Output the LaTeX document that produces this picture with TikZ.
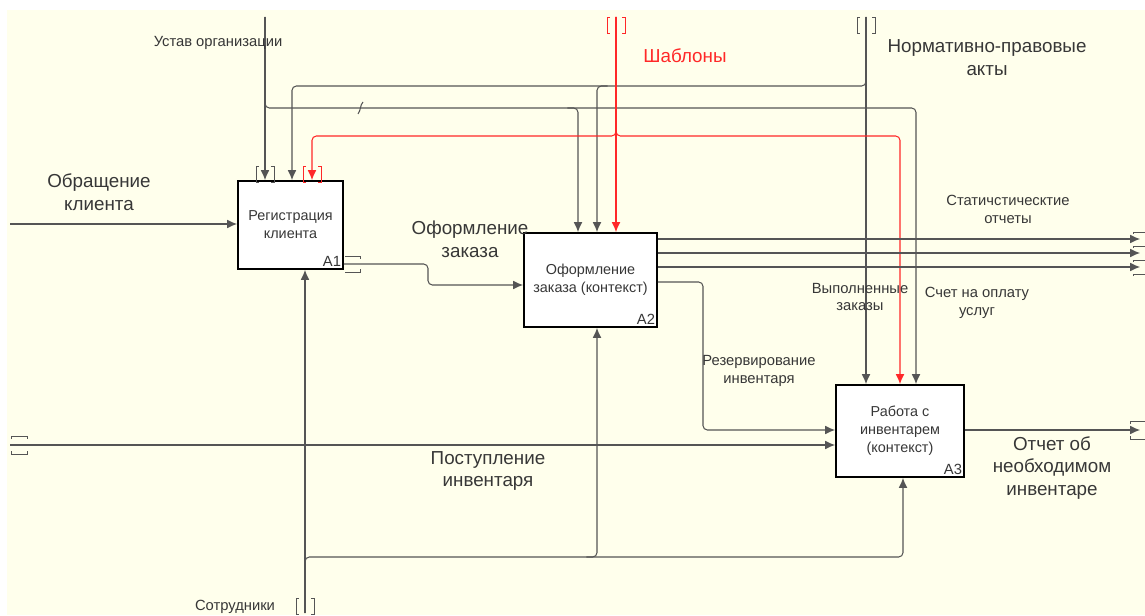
\documentclass[tikz,border=0pt]{standalone}
\usepackage{fontspec}
\setmainfont{Liberation Sans}
\usetikzlibrary{arrows.meta}
\definecolor{cream}{RGB}{255,255,236}
\definecolor{linegray}{RGB}{85,85,85}
\definecolor{txtgray}{RGB}{55,55,55}
\definecolor{idefred}{RGB}{255,40,40}
\begin{document}
\begin{tikzpicture}[x=0.02cm,y=-0.02cm]
        \tikzset{
          flow/.style={draw=linegray,line width=0.6pt,rounded corners=2.5pt},
          redflow/.style={flow,draw=idefred},
          tip/.style={-{Latex[length=5.6pt,width=5pt]}},
          box/.style={draw=black,line width=1.1pt,fill=white,align=center,inner sep=1pt,
            font=\fontsize{8.2}{10.2}\selectfont,text=txtgray},
          num/.style={anchor=south east,inner sep=1.5pt,font=\fontsize{8.4}{10}\selectfont,text=txtgray},
          big/.style={align=center,inner sep=0pt,font=\fontsize{10.7}{13}\selectfont,text=txtgray},
          small/.style={align=center,inner sep=0pt,font=\fontsize{8.4}{10.2}\selectfont,text=txtgray},
          tunv/.pic={\draw[pic actions,line width=0.5pt] (-6,-8) -- (-9,-8) -- (-9,8) -- (-6,8) (6,-8) -- (9,-8) -- (9,8) -- (6,8);},
          tunh/.pic={\draw[pic actions,line width=0.5pt] (-8,-6) -- (-8,-9) -- (8,-9) -- (8,-6) (-8,6) -- (-8,9) -- (8,9) -- (8,6);}
        }
        \useasboundingbox (0,0) rectangle (1145,615);
        \fill[white] (0,0) rectangle (1145,615);
        \fill[cream] (7,10) rectangle (1145,615);
        % functional blocks
        \node[box,minimum width=2.1cm,minimum height=1.76cm] (a1) at (290.5,225) {Регистрация\\клиента};
        \node[box,minimum width=2.66cm,minimum height=1.88cm] (a2) at (590.5,280) {Оформление\\заказа (контекст)};
        \node[box,minimum width=2.56cm,minimum height=1.84cm] (a3) at (900,431) {Работа с\\инвентарем\\(контекст)};
        \node[num] (n1) at (a1.south east) {A1};
        \node[num] (n2) at (a2.south east) {A2};
        \node[num] (n3) at (a3.south east) {A3};
        % border ends and branch points
        \coordinate (obr) at (10,224);
        \coordinate (post) at (10,445);
        \coordinate (ustav) at (265,17);
        \coordinate (shab) at (616,17);
        \coordinate (norm) at (866,17);
        \coordinate (sotr) at (305,613);
        \coordinate (ua2) at (578,108);
        \coordinate (ua3) at (916,108);
        \coordinate (na1) at (292,86);
        \coordinate (na2) at (597,86);
        \coordinate (sa1) at (312,136);
        \coordinate (sa3) at (900,136);
        \coordinate (ma2) at (597,557);
        \coordinate (ma3) at (903,557);
        \coordinate (k1) at (428,264);
        \coordinate (k2) at (428,285);
        \coordinate (r1) at (703,282);
        \coordinate (r2) at (703,430);
        \coordinate (otch) at (1140,430);
        % inputs
        \draw[flow,tip] (obr) -- (obr -| a1.west);
        \draw[flow,tip] (post) -- (post -| a3.west);
        \draw[flow,tip] (k1 -| a1.east) -- (k1) |- (a2.west |- k2);
        \draw[flow,tip] (r1 -| a2.east) -- (r1) |- (a3.west |- r2);
        % controls
        \draw[flow,tip] (ustav) -- (ustav |- a1.north);
        \draw[flow,tip] (ustav) |- (ua3) -- (ua3 |- a3.north);
        \draw[flow,tip] ([xshift=-6pt]ua2) -| (ua2 |- a2.north);
        \draw[flow] (358,114) .. controls (361,110) and (360,105) .. (363,102);
        \draw[flow,tip] (norm) -- (norm |- a3.north);
        \draw[flow,tip] (norm) |- (na1) -- (na1 |- a1.north);
        \draw[flow,tip] ([xshift=6pt]na2) -| (na2 |- a2.north);
        \draw[redflow,tip] (shab) -- (shab |- a2.north);
        \draw[redflow,tip] (shab) |- (sa1) -- (sa1 |- a1.north);
        \draw[redflow,tip] (shab) |- (sa3) -- (sa3 |- a3.north);
        % mechanism
        \draw[flow,tip] (sotr) -- (sotr |- a1.south);
        \draw[flow,tip] (sotr) |- (ma3) -- (ma3 |- a3.south);
        \draw[flow,tip] ([xshift=-6pt]ma2) -| (ma2 |- a2.south);
        % outputs
        \foreach \y/\n in {239/stat,253/vyp,267/sch}{
          \coordinate (\n) at (1140,\y);
          \draw[flow,tip] (\n -| a2.east) -- (\n);
        }
        \draw[flow,tip] (a3.east |- otch) -- (otch);
        % tunnels
        \pic[draw=linegray] at (ustav |- 0,174) {tunv};
        \pic[draw=idefred] at (sa1 |- 0,174) {tunv};
        \pic[draw=idefred] at (616,25) {tunv};
        \pic[draw=linegray] at (866,25) {tunv};
        \pic[draw=linegray] at (305,606) {tunv};
        \pic[draw=linegray] at (19,445) {tunh};
        \pic[draw=linegray] at (1138,430) {tunh};
        \draw[linegray,line width=0.5pt] (345,256) -- (360,256) -- (360,259) (345,272) -- (360,272) -- (360,269);
        \foreach \y in {232,246,260,274}
          \draw[linegray,line width=0.5pt] (1133,\y+2) -- (1133,\y) -- (1145,\y);
        % labels
        \node[big] (lobr) at (99,192) {Обращение\\клиента};
        \node[small] (lust) at (218,43) {Устав организации};
        \node[big,text=idefred] (lshab) at (685,56) {Шаблоны};
        \node[big] (lnorm) at (987,58) {Нормативно-правовые\\акты};
        \node[big] (lofz) at (470,239) {Оформление\\заказа};
        \node[small] (lstat) at (1008,209) {Статичстическтие\\отчеты};
        \node[small] (lvyp) at (860,297) {Выполненные\\заказы};
        \node[small] (lsch) at (977,303) {Счет на оплату\\услуг};
        \node[small] (lrez) at (759,371) {Резервирование\\инвентаря};
        \node[big] (lpost) at (488,471) {Поступление\\инвентаря};
        \node[big] (lotch) at (1052,468) {Отчет об\\необходимом\\инвентаре};
        \node[small] (lsotr) at (235,607) {Сотрудники};
    \end{tikzpicture}
\end{document}
